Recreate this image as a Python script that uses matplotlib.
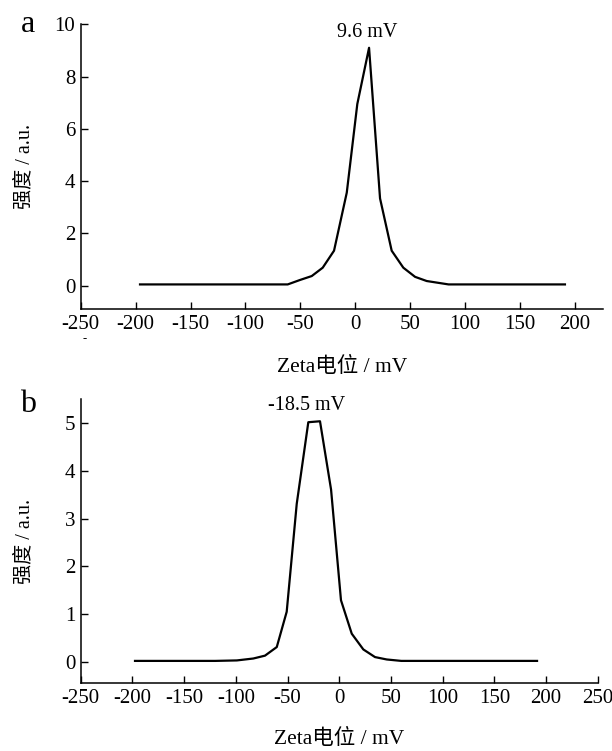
import matplotlib
matplotlib.use("Agg")
import matplotlib.pyplot as plt

plt.rcParams['font.family'] = ['Liberation Serif', 'Noto Sans CJK SC']
plt.rcParams['axes.unicode_minus'] = False

# panel a: zeta potential distribution, peak 9.6 mV
zeta_a = [-196, -61.5, -50.3, -39.6, -29.6, -19.3, -7.7, 1.9, 12.6,
          22.6, 33.2, 43.8, 54.5, 65.1, 85, 191]
inten_a = [0.05, 0.05, 0.22, 0.37, 0.69, 1.34, 3.56, 6.95, 9.1,
           3.34, 1.34, 0.69, 0.34, 0.18, 0.05, 0.05]

# panel b: zeta potential distribution, peak -18.5 mV
zeta_b = [-197.5, -120, -99, -83.1, -71.8, -60.4, -50.8, -41.1, -29.9, -18.6,
          -7.9, 1.7, 12.1, 23.3, 34.6, 45.9, 60, 191.3]
inten_b = [0.02, 0.02, 0.03, 0.07, 0.13, 0.31, 1.05, 3.31, 5.02, 5.04,
           3.61, 1.29, 0.59, 0.26, 0.10, 0.05, 0.02, 0.02]

xticks = [-250, -200, -150, -100, -50, 0, 50, 100, 150, 200, 250]
yticks_a = [0, 2, 4, 6, 8, 10]
yticks_b = [0, 1, 2, 3, 4, 5]

fig = plt.figure(figsize=(6.12, 7.51), dpi=100)
ax_a = fig.add_axes([0.1319, 0.5882, 0.854, 0.3795])
ax_b = fig.add_axes([0.1319, 0.0901, 0.8448, 0.3782])


def style(ax, xlim, ylim, yticks):
    ax.set_xlim(*xlim)
    ax.set_ylim(*ylim)
    for s in ['top', 'right']:
        ax.spines[s].set_visible(False)
    for s in ['left', 'bottom']:
        ax.spines[s].set_linewidth(1.1)
    ax.set_xticks([t for t in xticks if xlim[0] <= t <= xlim[1]])
    ax.set_yticks(yticks)
    ax.tick_params(direction='in', length=4.8, width=1.0, labelsize=15, pad=4)
    ax.set_xlabel('Zeta电位 / mV', fontsize=15.5)
    ax.set_ylabel('强度 / a.u.', fontsize=14.5)
    ax.xaxis.label.set_va('center')
    ax.yaxis.label.set_va('center')


ax_a.plot(zeta_a, inten_a, color='black', lw=1.6)
style(ax_a, (-250, 226), (-0.9, 10), yticks_a)
ax_a.xaxis.set_label_coords(0.5, -0.203)
ax_a.yaxis.set_label_coords(-0.1066, 0.5)
ax_a.text(10.5, 9.69, '9.6 mV', ha='center', va='center', fontsize=14.5)

ax_b.plot(zeta_b, inten_b, color='black', lw=1.6)
style(ax_b, (-250, 250), (-0.45, 5.5), yticks_b)
ax_b.xaxis.set_label_coords(0.5, -0.195)
ax_b.yaxis.set_label_coords(-0.1077, 0.5)
ax_b.text(-31.4, 5.37, '-18.5 mV', ha='center', va='center', fontsize=14.5)

fig.text(28.3 / 612, 1 - 25 / 751, 'a', fontsize=23, ha='center', va='center')
fig.text(28.3 / 612, 1 - 405 / 751, 'b', fontsize=23, ha='center', va='center')
# small stray dash under the -250 label in panel a
fig.text(85 / 612, 1 - 339 / 751, '-', fontsize=9, ha='center', va='center')

fig.savefig('out.png', dpi=100)
